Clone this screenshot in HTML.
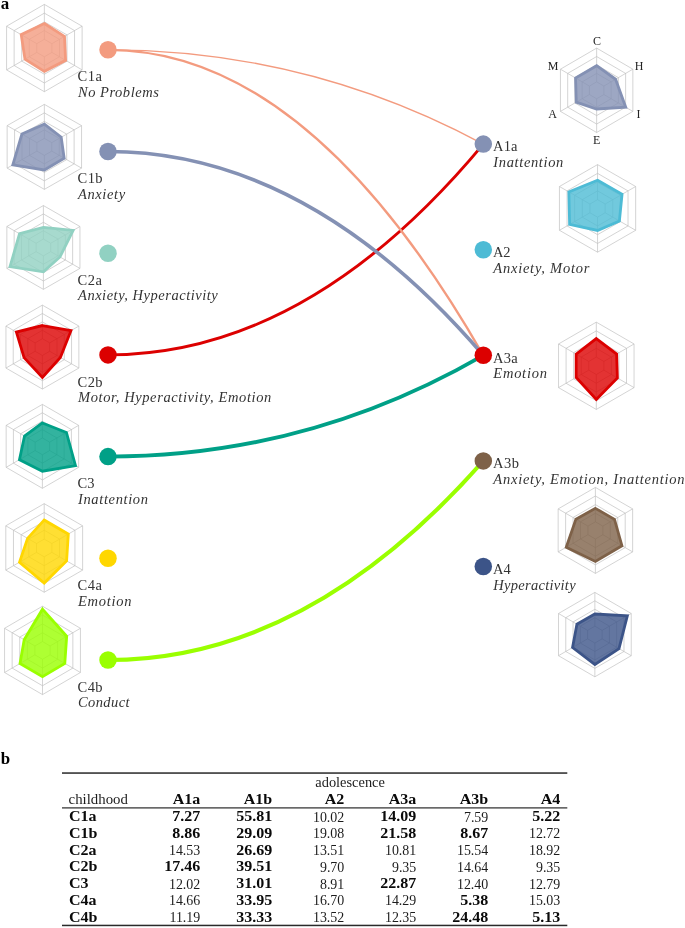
<!DOCTYPE html>
<html><head><meta charset="utf-8"><title>figure</title>
<style>
html,body{margin:0;padding:0;background:#fff;}
body{width:685px;height:928px;position:relative;overflow:hidden;font-family:"Liberation Serif",serif;color:#333;}
</style></head><body>
<svg width="685" height="928" viewBox="0 0 685 928" style="position:absolute;left:0;top:0">
<g fill="none" stroke="#bcbcbc" stroke-width="0.65">
<polygon points="44.35,39.32 51.90,43.68 51.90,52.41 44.35,56.78 36.80,52.41 36.80,43.68"/>
<polygon points="44.35,30.59 59.45,39.32 59.45,56.78 44.35,65.51 29.25,56.78 29.25,39.32"/>
<polygon points="44.35,21.86 67.01,34.95 67.01,61.14 44.35,74.24 21.69,61.14 21.69,34.95"/>
<polygon points="44.35,13.13 74.56,30.59 74.56,65.51 44.35,82.97 14.14,65.51 14.14,30.59"/>
<polygon points="44.35,4.40 82.11,26.23 82.11,69.88 44.35,91.70 6.59,69.88 6.59,26.22"/>
<line x1="44.35" y1="39.32" x2="44.35" y2="4.40"/>
<line x1="51.90" y1="43.68" x2="82.11" y2="26.23"/>
<line x1="51.90" y1="52.41" x2="82.11" y2="69.88"/>
<line x1="44.35" y1="56.78" x2="44.35" y2="91.70"/>
<line x1="36.80" y1="52.41" x2="6.59" y2="69.88"/>
<line x1="36.80" y1="43.68" x2="6.59" y2="26.22"/>
</g>
<polygon points="44.35,23.48 64.48,36.42 65.61,60.34 44.35,71.32 24.98,59.25 21.20,34.67" fill="#F39B7F" fill-opacity="0.8" stroke="#F39B7F" stroke-width="2.8" stroke-linejoin="miter"/>
<g fill="none" stroke="#bcbcbc" stroke-width="0.65">
<polygon points="44.35,138.36 51.79,142.61 51.79,151.11 44.35,155.36 36.91,151.11 36.91,142.61"/>
<polygon points="44.35,129.86 59.23,138.36 59.23,155.36 44.35,163.86 29.47,155.36 29.47,138.36"/>
<polygon points="44.35,121.36 66.67,134.11 66.67,159.61 44.35,172.36 22.03,159.61 22.03,134.11"/>
<polygon points="44.35,112.86 74.11,129.86 74.11,163.86 44.35,180.86 14.59,163.86 14.59,129.86"/>
<polygon points="44.35,104.36 81.55,125.61 81.55,168.11 44.35,189.36 7.15,168.11 7.15,125.61"/>
<line x1="44.35" y1="138.36" x2="44.35" y2="104.36"/>
<line x1="51.79" y1="142.61" x2="81.55" y2="125.61"/>
<line x1="51.79" y1="151.11" x2="81.55" y2="168.11"/>
<line x1="44.35" y1="155.36" x2="44.35" y2="189.36"/>
<line x1="36.91" y1="151.11" x2="7.15" y2="168.11"/>
<line x1="36.91" y1="142.61" x2="7.15" y2="125.61"/>
</g>
<polygon points="44.35,124.21 61.20,137.23 64.18,158.19 44.35,169.94 12.81,164.88 21.92,134.05" fill="#8491B4" fill-opacity="0.8" stroke="#8491B4" stroke-width="2.8" stroke-linejoin="miter"/>
<g fill="none" stroke="#bcbcbc" stroke-width="0.65">
<polygon points="43.40,239.07 50.71,243.26 50.71,251.64 43.40,255.83 36.09,251.64 36.09,243.26"/>
<polygon points="43.40,230.69 58.02,239.07 58.02,255.83 43.40,264.21 28.78,255.83 28.78,239.07"/>
<polygon points="43.40,222.31 65.33,234.88 65.33,260.02 43.40,272.59 21.47,260.02 21.47,234.88"/>
<polygon points="43.40,213.93 72.64,230.69 72.64,264.21 43.40,280.97 14.16,264.21 14.16,230.69"/>
<polygon points="43.40,205.55 79.95,226.50 79.95,268.40 43.40,289.35 6.85,268.40 6.85,226.50"/>
<line x1="43.40" y1="239.07" x2="43.40" y2="205.55"/>
<line x1="50.71" y1="243.26" x2="79.95" y2="226.50"/>
<line x1="50.71" y1="251.64" x2="79.95" y2="268.40"/>
<line x1="43.40" y1="255.83" x2="43.40" y2="289.35"/>
<line x1="36.09" y1="251.64" x2="6.85" y2="268.40"/>
<line x1="36.09" y1="243.26" x2="6.85" y2="226.50"/>
</g>
<polygon points="43.40,227.42 73.11,230.42 59.96,256.94 43.40,271.88 10.03,266.58 19.54,233.77" fill="#91D1C2" fill-opacity="0.8" stroke="#91D1C2" stroke-width="2.8" stroke-linejoin="miter"/>
<g fill="none" stroke="#bcbcbc" stroke-width="0.65">
<polygon points="42.40,338.69 49.69,342.88 49.69,351.28 42.40,355.47 35.11,351.28 35.11,342.88"/>
<polygon points="42.40,330.29 56.98,338.69 56.98,355.47 42.40,363.87 27.82,355.47 27.82,338.69"/>
<polygon points="42.40,321.90 64.28,334.49 64.28,359.67 42.40,372.26 20.52,359.67 20.52,334.49"/>
<polygon points="42.40,313.50 71.57,330.29 71.57,363.87 42.40,380.66 13.23,363.87 13.23,330.29"/>
<polygon points="42.40,305.11 78.86,326.09 78.86,368.06 42.40,389.05 5.94,368.06 5.94,326.09"/>
<line x1="42.40" y1="338.69" x2="42.40" y2="305.11"/>
<line x1="49.69" y1="342.88" x2="78.86" y2="326.09"/>
<line x1="49.69" y1="351.28" x2="78.86" y2="368.06"/>
<line x1="42.40" y1="355.47" x2="42.40" y2="389.05"/>
<line x1="35.11" y1="351.28" x2="5.94" y2="368.06"/>
<line x1="35.11" y1="342.88" x2="5.94" y2="326.09"/>
</g>
<polygon points="42.40,325.55 70.95,330.65 60.37,357.43 42.40,377.42 24.06,357.64 16.40,332.12" fill="#DC0000" fill-opacity="0.8" stroke="#DC0000" stroke-width="2.8" stroke-linejoin="miter"/>
<g fill="none" stroke="#bcbcbc" stroke-width="0.65">
<polygon points="42.40,437.96 49.65,442.15 49.65,450.55 42.40,454.74 35.15,450.55 35.15,442.15"/>
<polygon points="42.40,429.56 56.90,437.96 56.90,454.74 42.40,463.14 27.90,454.74 27.90,437.96"/>
<polygon points="42.40,421.17 64.15,433.76 64.15,458.94 42.40,471.53 20.65,458.94 20.65,433.76"/>
<polygon points="42.40,412.77 71.39,429.56 71.39,463.14 42.40,479.93 13.41,463.14 13.41,429.56"/>
<polygon points="42.40,404.38 78.64,425.37 78.64,467.34 42.40,488.32 6.16,467.34 6.16,425.37"/>
<line x1="42.40" y1="437.96" x2="42.40" y2="404.38"/>
<line x1="49.65" y1="442.15" x2="78.64" y2="425.37"/>
<line x1="49.65" y1="450.55" x2="78.64" y2="467.34"/>
<line x1="42.40" y1="454.74" x2="42.40" y2="488.32"/>
<line x1="35.15" y1="450.55" x2="6.16" y2="467.34"/>
<line x1="35.15" y1="442.15" x2="6.16" y2="425.37"/>
</g>
<polygon points="42.40,422.93 66.43,432.44 75.49,465.51 42.40,471.24 19.46,459.63 24.53,436.00" fill="#00A087" fill-opacity="0.8" stroke="#00A087" stroke-width="2.8" stroke-linejoin="miter"/>
<g fill="none" stroke="#bcbcbc" stroke-width="0.65">
<polygon points="44.20,539.10 51.88,543.53 51.88,552.39 44.20,556.82 36.52,552.39 36.52,543.53"/>
<polygon points="44.20,530.24 59.56,539.10 59.56,556.82 44.20,565.68 28.84,556.82 28.84,539.10"/>
<polygon points="44.20,521.38 67.24,534.67 67.24,561.25 44.20,574.54 21.16,561.25 21.16,534.67"/>
<polygon points="44.20,512.52 74.93,530.24 74.93,565.68 44.20,583.40 13.47,565.68 13.47,530.24"/>
<polygon points="44.20,503.66 82.61,525.81 82.61,570.11 44.20,592.26 5.79,570.11 5.79,525.81"/>
<line x1="44.20" y1="539.10" x2="44.20" y2="503.66"/>
<line x1="51.88" y1="543.53" x2="82.61" y2="525.81"/>
<line x1="51.88" y1="552.39" x2="82.61" y2="570.11"/>
<line x1="44.20" y1="556.82" x2="44.20" y2="592.26"/>
<line x1="36.52" y1="552.39" x2="5.79" y2="570.11"/>
<line x1="36.52" y1="543.53" x2="5.79" y2="525.81"/>
</g>
<polygon points="44.20,519.92 68.32,534.05 66.59,560.87 44.20,583.09 19.50,562.20 27.57,538.37" fill="#FFD700" fill-opacity="0.8" stroke="#FFD700" stroke-width="2.8" stroke-linejoin="miter"/>
<g fill="none" stroke="#bcbcbc" stroke-width="0.65">
<polygon points="42.50,641.56 50.09,645.98 50.09,654.82 42.50,659.24 34.91,654.82 34.91,645.98"/>
<polygon points="42.50,632.72 57.67,641.56 57.67,659.24 42.50,668.08 27.33,659.24 27.33,641.56"/>
<polygon points="42.50,623.88 65.26,637.14 65.26,663.66 42.50,676.92 19.74,663.66 19.74,637.14"/>
<polygon points="42.50,615.04 72.85,632.72 72.85,668.08 42.50,685.76 12.15,668.08 12.15,632.72"/>
<polygon points="42.50,606.20 80.43,628.30 80.43,672.50 42.50,694.60 4.57,672.50 4.57,628.30"/>
<line x1="42.50" y1="641.56" x2="42.50" y2="606.20"/>
<line x1="50.09" y1="645.98" x2="80.43" y2="628.30"/>
<line x1="50.09" y1="654.82" x2="80.43" y2="672.50"/>
<line x1="42.50" y1="659.24" x2="42.50" y2="694.60"/>
<line x1="34.91" y1="654.82" x2="4.57" y2="672.50"/>
<line x1="34.91" y1="645.98" x2="4.57" y2="628.30"/>
</g>
<polygon points="42.50,609.16 66.70,636.30 64.80,663.39 42.50,676.61 20.01,663.51 24.18,639.73" fill="#9AFF00" fill-opacity="0.8" stroke="#9AFF00" stroke-width="2.8" stroke-linejoin="miter"/>
<g fill="none" stroke="#bcbcbc" stroke-width="0.65">
<polygon points="596.65,81.86 603.89,86.08 603.89,94.52 596.65,98.74 589.41,94.52 589.41,86.08"/>
<polygon points="596.65,73.42 611.13,81.86 611.13,98.74 596.65,107.18 582.17,98.74 582.17,81.86"/>
<polygon points="596.65,64.98 618.37,77.64 618.37,102.96 596.65,115.62 574.93,102.96 574.93,77.64"/>
<polygon points="596.65,56.54 625.61,73.42 625.61,107.18 596.65,124.06 567.69,107.18 567.69,73.42"/>
<polygon points="596.65,48.10 632.85,69.20 632.85,111.40 596.65,132.50 560.45,111.40 560.45,69.20"/>
<line x1="596.65" y1="81.86" x2="596.65" y2="48.10"/>
<line x1="603.89" y1="86.08" x2="632.85" y2="69.20"/>
<line x1="603.89" y1="94.52" x2="632.85" y2="111.40"/>
<line x1="596.65" y1="98.74" x2="596.65" y2="132.50"/>
<line x1="589.41" y1="94.52" x2="560.45" y2="111.40"/>
<line x1="589.41" y1="86.08" x2="560.45" y2="69.20"/>
</g>
<polygon points="596.65,65.70 615.58,79.26 625.72,107.24 596.65,108.99 576.27,102.18 575.55,78.00" fill="#8491B4" fill-opacity="0.8" stroke="#8491B4" stroke-width="2.8" stroke-linejoin="miter"/>
<g fill="none" stroke="#bcbcbc" stroke-width="0.65">
<polygon points="597.55,199.64 605.17,204.02 605.17,212.78 597.55,217.16 589.93,212.78 589.93,204.02"/>
<polygon points="597.55,190.88 612.79,199.64 612.79,217.16 597.55,225.92 582.31,217.16 582.31,199.64"/>
<polygon points="597.55,182.12 620.41,195.26 620.41,221.54 597.55,234.68 574.69,221.54 574.69,195.26"/>
<polygon points="597.55,173.36 628.03,190.88 628.03,225.92 597.55,243.44 567.07,225.92 567.07,190.88"/>
<polygon points="597.55,164.60 635.66,186.50 635.66,230.30 597.55,252.20 559.44,230.30 559.44,186.50"/>
<line x1="597.55" y1="199.64" x2="597.55" y2="164.60"/>
<line x1="605.17" y1="204.02" x2="635.66" y2="186.50"/>
<line x1="605.17" y1="212.78" x2="635.66" y2="230.30"/>
<line x1="597.55" y1="217.16" x2="597.55" y2="252.20"/>
<line x1="589.93" y1="212.78" x2="559.44" y2="230.30"/>
<line x1="589.93" y1="204.02" x2="559.44" y2="186.50"/>
</g>
<polygon points="597.55,180.24 622.05,194.32 619.38,220.95 597.55,230.43 569.62,224.45 568.86,191.91" fill="#4DBBD5" fill-opacity="0.8" stroke="#4DBBD5" stroke-width="2.8" stroke-linejoin="miter"/>
<g fill="none" stroke="#bcbcbc" stroke-width="0.65">
<polygon points="596.30,357.07 603.85,361.44 603.85,370.17 596.30,374.53 588.75,370.17 588.75,361.44"/>
<polygon points="596.30,348.34 611.40,357.07 611.40,374.53 596.30,383.26 581.20,374.53 581.20,357.07"/>
<polygon points="596.30,339.61 618.96,352.71 618.96,378.89 596.30,391.99 573.64,378.89 573.64,352.70"/>
<polygon points="596.30,330.88 626.51,348.34 626.51,383.26 596.30,400.72 566.09,383.26 566.09,348.34"/>
<polygon points="596.30,322.15 634.06,343.98 634.06,387.62 596.30,409.45 558.54,387.62 558.54,343.98"/>
<line x1="596.30" y1="357.07" x2="596.30" y2="322.15"/>
<line x1="603.85" y1="361.44" x2="634.06" y2="343.98"/>
<line x1="603.85" y1="370.17" x2="634.06" y2="387.62"/>
<line x1="596.30" y1="374.53" x2="596.30" y2="409.45"/>
<line x1="588.75" y1="370.17" x2="558.54" y2="387.62"/>
<line x1="588.75" y1="361.44" x2="558.54" y2="343.98"/>
</g>
<polygon points="596.30,338.61 616.61,354.06 617.37,377.98 596.30,399.54 576.17,377.43 576.17,354.17" fill="#DC0000" fill-opacity="0.8" stroke="#DC0000" stroke-width="2.8" stroke-linejoin="miter"/>
<g fill="none" stroke="#bcbcbc" stroke-width="0.65">
<polygon points="595.40,521.80 602.85,526.10 602.85,534.70 595.40,539.00 587.95,534.70 587.95,526.10"/>
<polygon points="595.40,513.20 610.30,521.80 610.30,539.00 595.40,547.60 580.50,539.00 580.50,521.80"/>
<polygon points="595.40,504.60 617.74,517.50 617.74,543.30 595.40,556.20 573.06,543.30 573.06,517.50"/>
<polygon points="595.40,496.00 625.19,513.20 625.19,547.60 595.40,564.80 565.61,547.60 565.61,513.20"/>
<polygon points="595.40,487.40 632.64,508.90 632.64,551.90 595.40,573.40 558.16,551.90 558.16,508.90"/>
<line x1="595.40" y1="521.80" x2="595.40" y2="487.40"/>
<line x1="602.85" y1="526.10" x2="632.64" y2="508.90"/>
<line x1="602.85" y1="534.70" x2="632.64" y2="551.90"/>
<line x1="595.40" y1="539.00" x2="595.40" y2="573.40"/>
<line x1="587.95" y1="534.70" x2="558.16" y2="551.90"/>
<line x1="587.95" y1="526.10" x2="558.16" y2="508.90"/>
</g>
<polygon points="595.40,508.34 614.50,519.37 621.95,545.73 595.40,561.49 566.24,547.23 575.92,519.16" fill="#7E6148" fill-opacity="0.8" stroke="#7E6148" stroke-width="2.8" stroke-linejoin="miter"/>
<g fill="none" stroke="#bcbcbc" stroke-width="0.65">
<polygon points="594.87,626.16 602.14,630.38 602.14,638.82 594.87,643.04 587.60,638.82 587.60,630.38"/>
<polygon points="594.87,617.72 609.42,626.16 609.42,643.04 594.87,651.48 580.32,643.04 580.32,626.16"/>
<polygon points="594.87,609.28 616.69,621.94 616.69,647.26 594.87,659.92 573.05,647.26 573.05,621.94"/>
<polygon points="594.87,600.84 623.97,617.72 623.97,651.48 594.87,668.36 565.77,651.48 565.77,617.72"/>
<polygon points="594.87,592.40 631.24,613.50 631.24,655.70 594.87,676.80 558.50,655.70 558.50,613.50"/>
<line x1="594.87" y1="626.16" x2="594.87" y2="592.40"/>
<line x1="602.14" y1="630.38" x2="631.24" y2="613.50"/>
<line x1="602.14" y1="638.82" x2="631.24" y2="655.70"/>
<line x1="594.87" y1="643.04" x2="594.87" y2="676.80"/>
<line x1="587.60" y1="638.82" x2="558.50" y2="655.70"/>
<line x1="587.60" y1="630.38" x2="558.50" y2="613.50"/>
</g>
<polygon points="594.87,614.01 627.35,615.76 618.99,648.59 594.87,664.48 572.57,647.53 576.94,624.20" fill="#3C5488" fill-opacity="0.8" stroke="#3C5488" stroke-width="2.8" stroke-linejoin="miter"/>
<path d="M108.00 49.80 Q308.00 49.80 483.30 144.10" fill="none" stroke="#F39B7F" stroke-width="1.35"/>
<path d="M108.00 354.90 Q308.00 354.90 483.30 144.10" fill="none" stroke="#DC0000" stroke-width="2.92"/>
<path d="M108.00 49.80 Q308.00 49.80 483.30 355.30" fill="none" stroke="#F39B7F" stroke-width="2.35"/>
<path d="M108.00 151.50 Q308.00 151.50 483.30 355.30" fill="none" stroke="#8491B4" stroke-width="3.60"/>
<path d="M108.00 456.60 Q308.00 456.60 483.30 355.30" fill="none" stroke="#00A087" stroke-width="3.82"/>
<path d="M108.00 660.00 Q308.00 660.00 483.30 460.90" fill="none" stroke="#9AFF00" stroke-width="4.09"/>
<circle cx="108.00" cy="49.80" r="8.75" fill="#F39B7F"/>
<circle cx="108.00" cy="151.50" r="8.75" fill="#8491B4"/>
<circle cx="108.00" cy="253.20" r="8.75" fill="#91D1C2"/>
<circle cx="108.00" cy="354.90" r="8.75" fill="#DC0000"/>
<circle cx="108.00" cy="456.60" r="8.75" fill="#00A087"/>
<circle cx="108.00" cy="558.30" r="8.75" fill="#FFD700"/>
<circle cx="108.00" cy="660.00" r="8.75" fill="#9AFF00"/>
<circle cx="483.30" cy="144.10" r="8.75" fill="#8491B4"/>
<circle cx="483.30" cy="249.70" r="8.75" fill="#4DBBD5"/>
<circle cx="483.30" cy="355.30" r="8.75" fill="#DC0000"/>
<circle cx="483.30" cy="460.90" r="8.75" fill="#7E6148"/>
<circle cx="483.30" cy="566.50" r="8.75" fill="#3C5488"/>
<g font-family="'Liberation Serif', serif" font-size="14.5" fill="#333">
<text x="77.5" y="81.40" textLength="24.5" lengthAdjust="spacing">C1a</text>
<text x="78" y="97.00" font-style="italic" textLength="80.8" lengthAdjust="spacing">No Problems</text>
<text x="77.5" y="183.10" textLength="25.1" lengthAdjust="spacing">C1b</text>
<text x="78" y="198.70" font-style="italic" textLength="47.1" lengthAdjust="spacing">Anxiety</text>
<text x="77.5" y="284.80" textLength="24.5" lengthAdjust="spacing">C2a</text>
<text x="78" y="300.40" font-style="italic" textLength="139.8" lengthAdjust="spacing">Anxiety, Hyperactivity</text>
<text x="77.5" y="386.50" textLength="25.1" lengthAdjust="spacing">C2b</text>
<text x="78" y="402.10" font-style="italic" textLength="193.3" lengthAdjust="spacing">Motor, Hyperactivity, Emotion</text>
<text x="77.5" y="488.20" textLength="17.1" lengthAdjust="spacing">C3</text>
<text x="78" y="503.80" font-style="italic" textLength="70.0" lengthAdjust="spacing">Inattention</text>
<text x="77.5" y="589.90" textLength="24.5" lengthAdjust="spacing">C4a</text>
<text x="78" y="605.50" font-style="italic" textLength="53.6" lengthAdjust="spacing">Emotion</text>
<text x="77.5" y="691.60" textLength="25.1" lengthAdjust="spacing">C4b</text>
<text x="78" y="707.20" font-style="italic" textLength="51.5" lengthAdjust="spacing">Conduct</text>
<text x="493.1" y="151.40" textLength="24.4" lengthAdjust="spacing">A1a</text>
<text x="493.3" y="167.20" font-style="italic" textLength="70.0" lengthAdjust="spacing">Inattention</text>
<text x="493.1" y="257.00" textLength="17.4" lengthAdjust="spacing">A2</text>
<text x="493.3" y="272.80" font-style="italic" textLength="96.1" lengthAdjust="spacing">Anxiety, Motor</text>
<text x="493.1" y="362.60" textLength="24.5" lengthAdjust="spacing">A3a</text>
<text x="493.3" y="378.40" font-style="italic" textLength="53.6" lengthAdjust="spacing">Emotion</text>
<text x="493.1" y="468.20" textLength="25.8" lengthAdjust="spacing">A3b</text>
<text x="493.3" y="484.00" font-style="italic" textLength="191.3" lengthAdjust="spacing">Anxiety, Emotion, Inattention</text>
<text x="493.1" y="573.80" textLength="17.6" lengthAdjust="spacing">A4</text>
<text x="493.3" y="589.60" font-style="italic" textLength="82.3" lengthAdjust="spacing">Hyperactivity</text>
<text x="597.0" y="44.8" text-anchor="middle" font-size="12" fill="#222">C</text>
<text x="639.0" y="70.4" text-anchor="middle" font-size="12" fill="#222">H</text>
<text x="638.6" y="117.5" text-anchor="middle" font-size="12" fill="#222">I</text>
<text x="596.7" y="143.7" text-anchor="middle" font-size="12" fill="#222">E</text>
<text x="552.6" y="117.5" text-anchor="middle" font-size="12" fill="#222">A</text>
<text x="553.0" y="70.4" text-anchor="middle" font-size="12" fill="#222">M</text>
</g>
<g font-family="'Liberation Serif', serif" font-size="16.9" font-weight="bold" fill="#000"><text x="0.7" y="9.1">a</text><text x="0.8" y="763.5">b</text></g>
<g fill="#2a2a2a">
<rect x="62" y="772.3" width="505.3" height="1.5"/>
<rect x="62" y="807.3" width="505.3" height="1.2"/>
<rect x="62" y="924.7" width="505.3" height="1.5"/>
</g>
<g font-family="'Liberation Serif', serif" font-size="13.6" fill="#1c1c1c">
<text transform="translate(350.10 787.40) scale(1.060 1)" text-anchor="middle">adolescence</text>
<text transform="translate(68.60 803.80) scale(1.090 1)" text-anchor="start">childhood</text>
<text transform="translate(200.30 803.60) scale(1.180 1)" text-anchor="end" font-weight="bold" fill="#0a0a0a">A1a</text>
<text transform="translate(272.30 803.60) scale(1.180 1)" text-anchor="end" font-weight="bold" fill="#0a0a0a">A1b</text>
<text transform="translate(344.30 803.60) scale(1.180 1)" text-anchor="end" font-weight="bold" fill="#0a0a0a">A2</text>
<text transform="translate(416.30 803.60) scale(1.180 1)" text-anchor="end" font-weight="bold" fill="#0a0a0a">A3a</text>
<text transform="translate(488.30 803.60) scale(1.180 1)" text-anchor="end" font-weight="bold" fill="#0a0a0a">A3b</text>
<text transform="translate(560.30 803.60) scale(1.180 1)" text-anchor="end" font-weight="bold" fill="#0a0a0a">A4</text>
<text transform="translate(69.00 821.00) scale(1.180 1)" text-anchor="start" font-weight="bold" fill="#0a0a0a">C1a</text>
<text transform="translate(200.30 821.00) scale(1.180 1)" text-anchor="end" font-weight="bold" fill="#0a0a0a">7.27</text>
<text transform="translate(272.30 821.00) scale(1.180 1)" text-anchor="end" font-weight="bold" fill="#0a0a0a">55.81</text>
<text transform="translate(344.30 821.50) scale(1.025 1)" text-anchor="end">10.02</text>
<text transform="translate(416.30 821.00) scale(1.180 1)" text-anchor="end" font-weight="bold" fill="#0a0a0a">14.09</text>
<text transform="translate(488.30 821.50) scale(1.025 1)" text-anchor="end">7.59</text>
<text transform="translate(560.30 821.00) scale(1.180 1)" text-anchor="end" font-weight="bold" fill="#0a0a0a">5.22</text>
<text transform="translate(69.00 837.75) scale(1.180 1)" text-anchor="start" font-weight="bold" fill="#0a0a0a">C1b</text>
<text transform="translate(200.30 837.75) scale(1.180 1)" text-anchor="end" font-weight="bold" fill="#0a0a0a">8.86</text>
<text transform="translate(272.30 837.75) scale(1.180 1)" text-anchor="end" font-weight="bold" fill="#0a0a0a">29.09</text>
<text transform="translate(344.30 838.25) scale(1.025 1)" text-anchor="end">19.08</text>
<text transform="translate(416.30 837.75) scale(1.180 1)" text-anchor="end" font-weight="bold" fill="#0a0a0a">21.58</text>
<text transform="translate(488.30 837.75) scale(1.180 1)" text-anchor="end" font-weight="bold" fill="#0a0a0a">8.67</text>
<text transform="translate(560.30 838.25) scale(1.025 1)" text-anchor="end">12.72</text>
<text transform="translate(69.00 854.50) scale(1.180 1)" text-anchor="start" font-weight="bold" fill="#0a0a0a">C2a</text>
<text transform="translate(200.30 855.00) scale(1.025 1)" text-anchor="end">14.53</text>
<text transform="translate(272.30 854.50) scale(1.180 1)" text-anchor="end" font-weight="bold" fill="#0a0a0a">26.69</text>
<text transform="translate(344.30 855.00) scale(1.025 1)" text-anchor="end">13.51</text>
<text transform="translate(416.30 855.00) scale(1.025 1)" text-anchor="end">10.81</text>
<text transform="translate(488.30 855.00) scale(1.025 1)" text-anchor="end">15.54</text>
<text transform="translate(560.30 855.00) scale(1.025 1)" text-anchor="end">18.92</text>
<text transform="translate(69.00 871.25) scale(1.180 1)" text-anchor="start" font-weight="bold" fill="#0a0a0a">C2b</text>
<text transform="translate(200.30 871.25) scale(1.180 1)" text-anchor="end" font-weight="bold" fill="#0a0a0a">17.46</text>
<text transform="translate(272.30 871.25) scale(1.180 1)" text-anchor="end" font-weight="bold" fill="#0a0a0a">39.51</text>
<text transform="translate(344.30 871.75) scale(1.025 1)" text-anchor="end">9.70</text>
<text transform="translate(416.30 871.75) scale(1.025 1)" text-anchor="end">9.35</text>
<text transform="translate(488.30 871.75) scale(1.025 1)" text-anchor="end">14.64</text>
<text transform="translate(560.30 871.75) scale(1.025 1)" text-anchor="end">9.35</text>
<text transform="translate(69.00 888.00) scale(1.180 1)" text-anchor="start" font-weight="bold" fill="#0a0a0a">C3</text>
<text transform="translate(200.30 888.50) scale(1.025 1)" text-anchor="end">12.02</text>
<text transform="translate(272.30 888.00) scale(1.180 1)" text-anchor="end" font-weight="bold" fill="#0a0a0a">31.01</text>
<text transform="translate(344.30 888.50) scale(1.025 1)" text-anchor="end">8.91</text>
<text transform="translate(416.30 888.00) scale(1.180 1)" text-anchor="end" font-weight="bold" fill="#0a0a0a">22.87</text>
<text transform="translate(488.30 888.50) scale(1.025 1)" text-anchor="end">12.40</text>
<text transform="translate(560.30 888.50) scale(1.025 1)" text-anchor="end">12.79</text>
<text transform="translate(69.00 904.75) scale(1.180 1)" text-anchor="start" font-weight="bold" fill="#0a0a0a">C4a</text>
<text transform="translate(200.30 905.25) scale(1.025 1)" text-anchor="end">14.66</text>
<text transform="translate(272.30 904.75) scale(1.180 1)" text-anchor="end" font-weight="bold" fill="#0a0a0a">33.95</text>
<text transform="translate(344.30 905.25) scale(1.025 1)" text-anchor="end">16.70</text>
<text transform="translate(416.30 905.25) scale(1.025 1)" text-anchor="end">14.29</text>
<text transform="translate(488.30 904.75) scale(1.180 1)" text-anchor="end" font-weight="bold" fill="#0a0a0a">5.38</text>
<text transform="translate(560.30 905.25) scale(1.025 1)" text-anchor="end">15.03</text>
<text transform="translate(69.00 921.50) scale(1.180 1)" text-anchor="start" font-weight="bold" fill="#0a0a0a">C4b</text>
<text transform="translate(200.30 922.00) scale(1.025 1)" text-anchor="end">11.19</text>
<text transform="translate(272.30 921.50) scale(1.180 1)" text-anchor="end" font-weight="bold" fill="#0a0a0a">33.33</text>
<text transform="translate(344.30 922.00) scale(1.025 1)" text-anchor="end">13.52</text>
<text transform="translate(416.30 922.00) scale(1.025 1)" text-anchor="end">12.35</text>
<text transform="translate(488.30 921.50) scale(1.180 1)" text-anchor="end" font-weight="bold" fill="#0a0a0a">24.48</text>
<text transform="translate(560.30 921.50) scale(1.180 1)" text-anchor="end" font-weight="bold" fill="#0a0a0a">5.13</text>
</g>
</svg>
</body></html>
